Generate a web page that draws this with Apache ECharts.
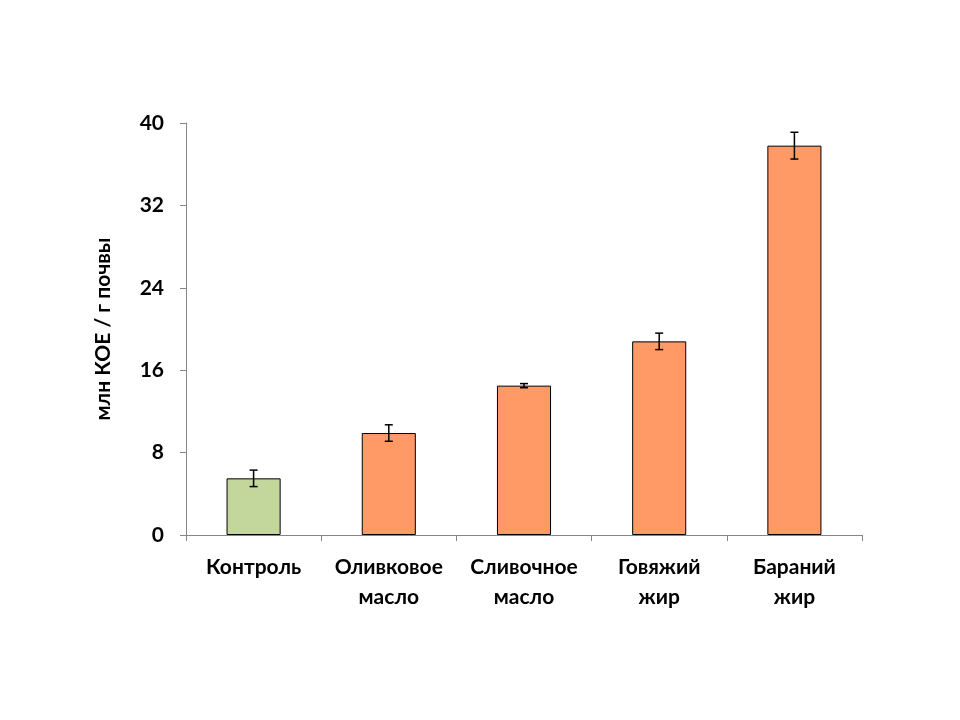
<!DOCTYPE html>
<html>
<head>
<meta charset="utf-8">
<script src="https://cdn.jsdelivr.net/npm/echarts@6/dist/echarts.min.js"></script>
<style>
  html, body { margin: 0; padding: 0; background: #fff; }
  #chart { width: 960px; height: 720px; }
</style>
</head>
<body>
<div id="chart"></div>
<script>
const categories = ["Контроль", "Оливковое\nмасло", "Сливочное\nмасло", "Говяжий\nжир", "Бараний\nжир"];
const values = [5.5, 9.9, 14.5, 18.8, 37.8];
const errors = [0.8, 0.8, 0.2, 0.8, 1.3];
const barColors = ["#C3D69B", "#FF9966", "#FF9966", "#FF9966", "#FF9966"];
const yTicks = { min: 0, max: 40, interval: 8 };

function initChart() {
  const chart = echarts.init(document.getElementById("chart"));

  const barData = values.map((v, i) => ({
    value: v,
    itemStyle: { color: barColors[i] },
  }));
  const errData = values.map((v, i) => [i, v - errors[i], v + errors[i]]);

  const options = {
    animation: false,
    grid: { left: 186, right: 98, top: 123, bottom: 185 },
    xAxis: {
      type: "category",
      data: categories,
      axisLine: { lineStyle: { color: "#868686", width: 1 } },
      axisTick: { show: true, length: 6, lineStyle: { color: "#868686" } },
      axisLabel: {
        color: "#000",
        fontFamily: "Lato",
        fontWeight: "bold",
        fontSize: 21,
        lineHeight: 30,
        margin: 17,
        interval: 0,
      },
    },
    yAxis: {
      type: "value",
      min: yTicks.min,
      max: yTicks.max,
      interval: yTicks.interval,
      name: "млн КОЕ / г почвы",
      nameLocation: "middle",
      nameGap: 72,
      nameTextStyle: {
        color: "#000",
        fontFamily: "Lato",
        fontWeight: "bold",
        fontSize: 21,
      },
      axisLine: { show: true, lineStyle: { color: "#868686", width: 1 } },
      axisTick: { show: true, length: 6, lineStyle: { color: "#868686" } },
      splitLine: { show: false },
      axisLabel: {
        color: "#000",
        fontFamily: "Lato",
        fontWeight: "bold",
        fontSize: 21,
        margin: 22,
      },
    },
    series: [
      {
        type: "bar",
        data: barData,
        barWidth: "40%",
        itemStyle: { borderColor: "#000", borderWidth: 1 },
      },
      {
        type: "custom",
        data: errData,
        z: 10,
        renderItem: (params, api) => {
          const x = api.value(0);
          const low = api.coord([x, api.value(1)]);
          const high = api.coord([x, api.value(2)]);
          const cap = 4;
          const style = { stroke: "#000", lineWidth: 1.5 };
          return {
            type: "group",
            children: [
              { type: "line", shape: { x1: high[0], y1: high[1], x2: low[0], y2: low[1] }, style },
              { type: "line", shape: { x1: high[0] - cap, y1: high[1], x2: high[0] + cap, y2: high[1] }, style },
              { type: "line", shape: { x1: low[0] - cap, y1: low[1], x2: low[0] + cap, y2: low[1] }, style },
            ],
          };
        },
      },
    ],
  };

  chart.setOption(options);
}

initChart();
</script>
</body>
</html>
